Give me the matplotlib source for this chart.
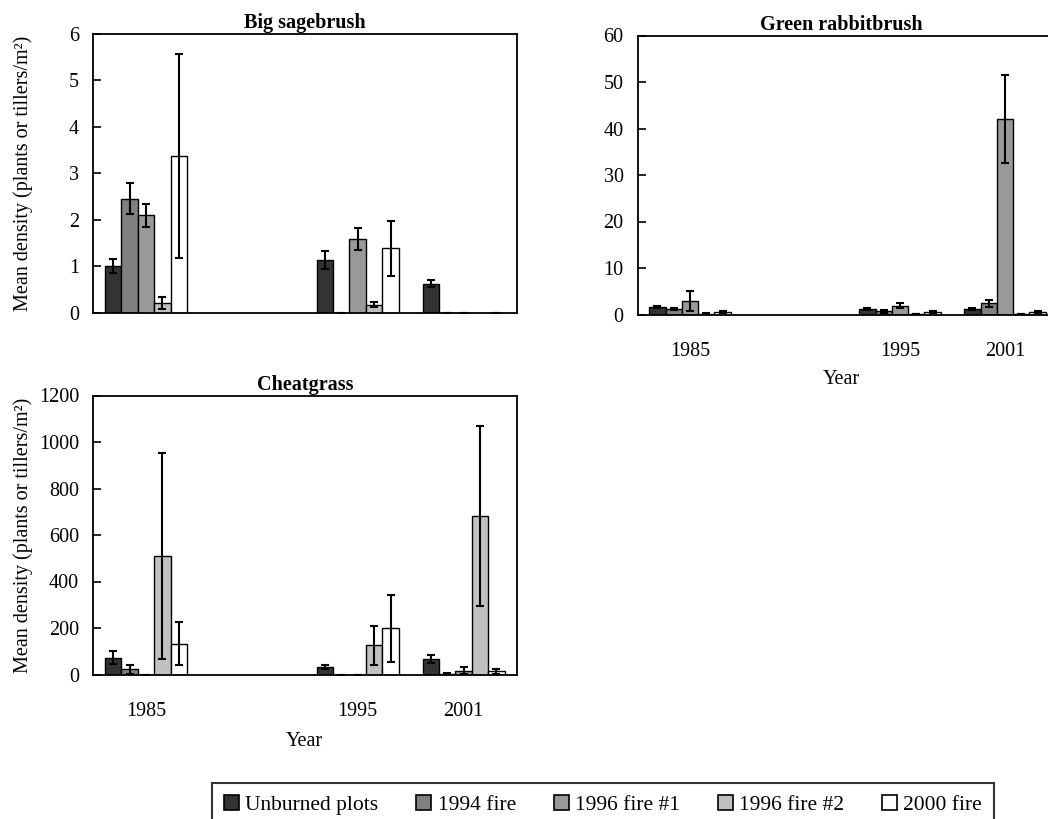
import numpy as np
import matplotlib
matplotlib.use("Agg")
import matplotlib.pyplot as plt
from matplotlib.patches import Patch

plt.rcParams['font.family'] = ['Liberation Serif', 'DejaVu Serif']

categories = ["1985", "", "1995", "2001"]
series = ["Unburned plots", "1994 fire", "1996 fire #1", "1996 fire #2", "2000 fire"]
colors = ["#333333", "#808080", "#999999", "#c0c0c0", "#ffffff"]
nan = np.nan

# Big sagebrush (rows = series, cols = categories)
sage_mean = [[1.00, nan, 1.13, 0.62],
             [2.45, nan, 0.00, 0.00],
             [2.09, nan, 1.59, 0.00],
             [0.21, nan, 0.17, nan],
             [3.37, nan, 1.38, 0.00]]
sage_err = [[0.15, nan, 0.19, 0.07],
            [0.33, nan, 0.00, 0.00],
            [0.25, nan, 0.24, 0.00],
            [0.13, nan, 0.06, nan],
            [2.20, nan, 0.59, 0.00]]

# Green rabbitbrush
rabbit_mean = [[1.6, nan, 1.15, 1.15],
               [1.1, nan, 0.65, 2.4],
               [2.9, nan, 1.9, 42.0],
               [0.2, nan, 0.1, 0.1],
               [0.5, nan, 0.55, 0.5]]
rabbit_err = [[0.2, nan, 0.15, 0.2],
              [0.2, nan, 0.4, 0.75],
              [2.2, nan, 0.6, 9.5],
              [0.05, nan, 0.05, 0.05],
              [0.2, nan, 0.2, 0.2]]

# Cheatgrass
cheat_mean = [[73, nan, 33, 66],
              [22, nan, 0, 4],
              [0, nan, 0, 17],
              [508, nan, 125, 682],
              [133, nan, 198, 14]]
cheat_err = [[26, nan, 8, 17],
             [21, nan, 0, 2],
             [0, nan, 0, 14],
             [443, nan, 85, 387],
             [93, nan, 146, 11]]

W, H = 1048, 819
fig = plt.figure(figsize=(W / 100, H / 100), dpi=100)


def make_ax(l, t, r, b):
    return fig.add_axes([l / W, 1 - b / H, (r - l) / W, (b - t) / H])


ax_sage = make_ax(93, 34, 516.5, 312.5)
ax_rab = make_ax(637.5, 35.5, 1057.5, 314.5)
ax_che = make_ax(93, 395.5, 516.5, 674.5)

bw = 0.155
x = np.arange(len(categories))


def draw(ax, means, errs, title, ylim, yticks, show_x, ylabel):
    for i in range(len(series)):
        m = np.array(means[i], dtype=float)
        e = np.array(errs[i], dtype=float)
        pos = x + (i - 2) * bw
        ax.bar(pos, m, width=bw, color=colors[i], edgecolor='black',
               linewidth=1.0, zorder=2)
        ax.errorbar(pos, m, yerr=e, fmt='none', ecolor='black',
                    elinewidth=1.5, capsize=3.2, capthick=1.5, zorder=3)
    ax.set_xlim(-0.5, len(categories) - 0.5)
    ax.set_ylim(*ylim)
    ax.set_yticks(yticks)
    ax.tick_params(axis='y', direction='in', length=6, width=1.2,
                   labelsize=14.5, pad=10)
    ax.tick_params(axis='x', length=0, labelsize=14.5, pad=20)
    if show_x:
        ax.set_xticks(x)
        ax.set_xticklabels(categories)
        ax.set_xlabel("Year", fontsize=14.5, labelpad=8)
    else:
        ax.set_xticks([])
    for s in ax.spines.values():
        s.set_linewidth(1.3)
    ax.set_title(title, fontsize=14.5, fontweight='bold', pad=4)
    if ylabel:
        ax.set_ylabel("Mean density (plants or tillers/m²)", fontsize=14.5)
        ax.yaxis.set_label_coords(-0.142, 0.5)


draw(ax_sage, sage_mean, sage_err, "Big sagebrush", (0, 6), range(0, 7), False, True)
draw(ax_rab, rabbit_mean, rabbit_err, "Green rabbitbrush", (0, 60), range(0, 61, 10), True, False)
draw(ax_che, cheat_mean, cheat_err, "Cheatgrass", (0, 1200), range(0, 1201, 200), True, True)
ax_rab.set_title("Green rabbitbrush", fontsize=14.5, fontweight='bold', pad=4,
                 x=(841.5 - 637.5) / 420)
ax_rab.xaxis.set_label_coords((841.5 - 637.5) / 420, -0.20)

handles = [Patch(facecolor=c, edgecolor='black', linewidth=1.2) for c in colors]
leg = fig.legend(handles, series, loc='upper left', ncol=5,
                 bbox_to_anchor=(212 / W, 1 - 783 / H),
                 fontsize=15.5, handlelength=0.7, handleheight=0.7,
                 handletextpad=0.3, columnspacing=1.75, frameon=True,
                 fancybox=False, borderpad=0.55, borderaxespad=0)
leg.get_frame().set_edgecolor('black')
leg.get_frame().set_linewidth(1.5)

fig.savefig("out.png", dpi=100)
